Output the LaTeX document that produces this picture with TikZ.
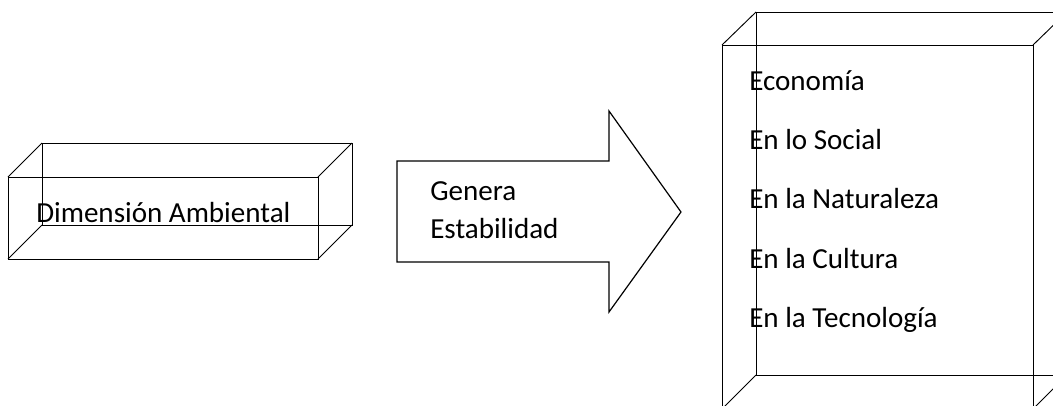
\documentclass[tikz,border=0pt]{standalone}
\usepackage{fontspec}
\setmainfont{Carlito}
\begin{document}
\begin{tikzpicture}[x=0.75pt,y=-0.75pt,
  edge/.style={line width=0.7pt, line join=miter},
  arrowshape/.style={line width=0.9pt, line join=miter},
  lbl/.style={inner sep=0pt, anchor=base west, font=\fontsize{21.8}{26}\selectfont}]
\useasboundingbox (0,0) rectangle (1053,405);
\clip (0,0) rectangle (1053,405);
% left box
\coordinate (lfa) at (8,177);  \coordinate (lfb) at (318,177);
\coordinate (lfc) at (318,259);\coordinate (lfd) at (8,259);
\coordinate (lba) at (42,143); \coordinate (lbb) at (352,143);
\coordinate (lbc) at (352,225);\coordinate (lbd) at (42,225);
\draw[edge] (lfa)--(lfb)--(lfc)--(lfd)--cycle;
\draw[edge] (lba)--(lbb)--(lbc)--(lbd)--cycle;
\draw[edge] (lfa)--(lba) (lfb)--(lbb) (lfc)--(lbc) (lfd)--(lbd);
\node[lbl] (dim) at (36,222) {Dimensión Ambiental};
% arrow
\draw[arrowshape] (397,161)--(609,161)--(609,111)--(681,212)--(609,312)--(609,262)--(397,262)--cycle;
\node[lbl] (gen) at (430,200) {Genera};
\node[lbl] (est) at (430,238) {Estabilidad};
% right box
\coordinate (rfa) at (722,45);  \coordinate (rfb) at (1033,45);
\coordinate (rfc) at (1033,409);\coordinate (rfd) at (722,409);
\coordinate (rba) at (756,12);  \coordinate (rbb) at (1067,12);
\coordinate (rbc) at (1067,375);\coordinate (rbd) at (756,375);
\draw[edge] (rfa)--(rfb)--(rfc)--(rfd)--cycle;
\draw[edge] (rba)--(rbb)--(rbc)--(rbd)--cycle;
\draw[edge] (rfa)--(rba) (rfb)--(rbb) (rfc)--(rbc) (rfd)--(rbd);
\node[lbl] (t1) at (749,90) {Economía};
\node[lbl] (t2) at (749,149.5) {En lo Social};
\node[lbl] (t3) at (749,208.5) {En la Naturaleza};
\node[lbl] (t4) at (749,268) {En la Cultura};
\node[lbl] (t5) at (749,327) {En la Tecnología};
\end{tikzpicture}
\end{document}
